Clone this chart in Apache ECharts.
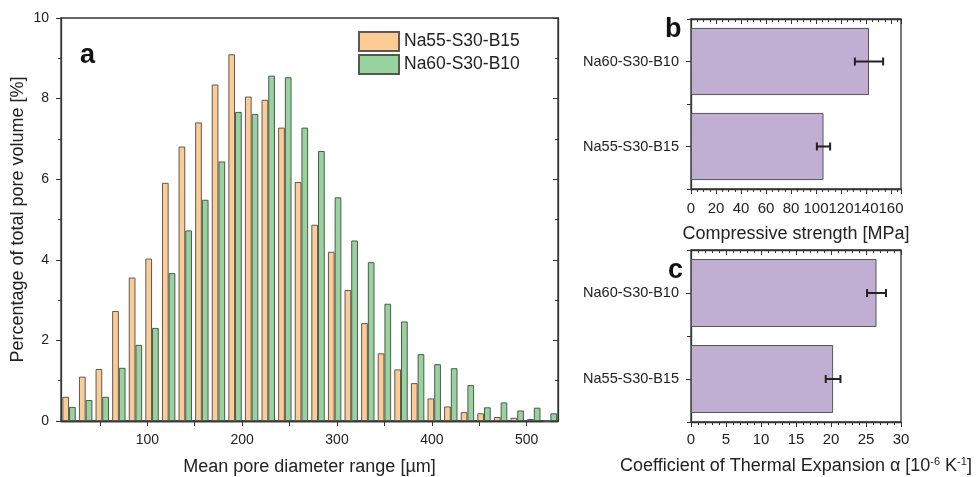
<!DOCTYPE html>
<html>
<head>
<meta charset="utf-8">
<script src="https://cdn.jsdelivr.net/npm/echarts@6/dist/echarts.min.js"></script>
<style>
    html, body { margin: 0; padding: 0; background: #fff; }
    #main { width: 976px; height: 477px; }
</style>
</head>
<body>
<div id="main"></div>
<script>
    // (a) pore size distribution, bin centres in µm and % of pore volume
    const binCenters = [17.5, 35, 52.5, 70, 87.5, 105, 122.5, 140, 157.5, 175,
        192.5, 210, 227.5, 245, 262.5, 280, 297.5, 315, 332.5, 350,
        367.5, 385, 402.5, 420, 437.5, 455, 472.5, 490, 507.5, 525];
    const na55 = [0.60, 1.10, 1.29, 2.73, 3.56, 4.03, 5.91, 6.81, 7.41, 8.35,
        9.10, 8.05, 7.97, 7.28, 5.93, 4.87, 4.20, 3.25, 2.43, 1.68,
        1.28, 0.94, 0.56, 0.36, 0.22, 0.19, 0.10, 0.08, 0.05, 0.00];
    const na60 = [0.35, 0.52, 0.60, 1.32, 1.89, 2.31, 3.67, 4.73, 5.49, 6.44,
        7.67, 7.62, 8.57, 8.53, 7.28, 6.70, 5.55, 4.48, 3.94, 2.91,
        2.47, 1.66, 1.41, 1.31, 0.89, 0.34, 0.46, 0.26, 0.33, 0.19];
    const xLabelTicks = [100, 200, 300, 400, 500];
    const xAllTicks = [50, 100, 150, 200, 250, 300, 350, 400, 450, 500];

    // (b) and (c)
    const samples = ['Na55-S30-B15', 'Na60-S30-B10'];
    const strength = [106, 142.4];
    const strengthErr = [5.3, 11.3];
    const cte = [20.3, 26.5];
    const cteErr = [1.05, 1.35];

    const FONT = 'Arial, "Liberation Sans", sans-serif';
    const INK = '#222';
    const LINE = {lineStyle: {color: '#333', width: 1.3}};

    const chart = echarts.init(document.getElementById('main'));

    function errorBar(params, api) {
        const v = api.value(0), c = api.value(1), e = api.value(2);
        const p1 = api.coord([v - e, c]);
        const p2 = api.coord([v + e, c]);
        const h = 4;
        const st = {stroke: '#222', lineWidth: 2};
        return {
            type: 'group',
            children: [
                {type: 'line', shape: {x1: p1[0], y1: p1[1], x2: p2[0], y2: p2[1]}, style: st},
                {type: 'line', shape: {x1: p1[0], y1: p1[1] - h, x2: p1[0], y2: p1[1] + h}, style: st},
                {type: 'line', shape: {x1: p2[0], y1: p2[1] - h, x2: p2[0], y2: p2[1] + h}, style: st}
            ]
        };
    }

    // frame round each plot; keep the grid where it is put
    const frame = {
        show: true, borderColor: '#333', borderWidth: 1.3, backgroundColor: 'transparent',
        containLabel: false, outerBoundsMode: 'none'
    };

    const option = {
        animation: false,
        textStyle: {fontFamily: FONT, color: INK},
        grid: [
            Object.assign({left: 61, top: 18, width: 497, height: 403}, frame),
            Object.assign({left: 691, top: 19, width: 210, height: 170}, frame),
            Object.assign({left: 691, top: 250, width: 210, height: 172}, frame)
        ],
        legend: {
            orient: 'vertical',
            left: 358,
            top: 31,
            itemWidth: 40,
            itemHeight: 19,
            itemGap: 2,
            padding: 0,
            icon: 'rect',
            data: ['Na55-S30-B15', 'Na60-S30-B10'],
            textStyle: {fontSize: 17.5, color: INK, fontFamily: FONT}
        },
        graphic: [
            {type: 'text', left: 80, top: 42, style: {text: 'a', font: 'bold 27px ' + FONT, fill: '#111'}},
            {type: 'text', left: 665, top: 16, style: {text: 'b', font: 'bold 27px ' + FONT, fill: '#111'}},
            {type: 'text', left: 668, top: 257, style: {text: 'c', font: 'bold 27px ' + FONT, fill: '#111'}}
        ],
        xAxis: [
            {
                gridIndex: 0, type: 'value', position: 'bottom', min: 9, max: 533,
                axisLine: Object.assign({show: true}, LINE),
                axisTick: {show: true, customValues: xAllTicks, length: 5, lineStyle: {color: '#333'}},
                axisLabel: {customValues: xLabelTicks, fontSize: 14, margin: 12, color: INK},
                splitLine: {show: false},
                name: 'Mean pore diameter range [µm]',
                nameLocation: 'middle', nameGap: 37, nameMoveOverlap: false,
                nameTextStyle: {fontSize: 18, color: INK}
            },
            {
                gridIndex: 0, type: 'value', position: 'top', min: 9, max: 533,
                axisLine: Object.assign({show: true}, LINE),
                axisTick: {show: true, inside: true, customValues: xAllTicks, length: 5, lineStyle: {color: '#333'}},
                axisLabel: {show: false},
                splitLine: {show: false}
            },
            {
                gridIndex: 1, type: 'value', position: 'bottom', min: 0, max: 168, interval: 20,
                axisLine: Object.assign({show: true}, LINE),
                axisTick: {show: true, length: 5, lineStyle: {color: '#333'}},
                minorTick: {show: true, splitNumber: 4, length: 3, lineStyle: {color: '#333'}},
                axisLabel: {fontSize: 15, margin: 12, color: INK, showMaxLabel: false},
                splitLine: {show: false},
                name: 'Compressive strength [MPa]',
                nameLocation: 'middle', nameGap: 36, nameMoveOverlap: false,
                nameTextStyle: {fontSize: 18, color: INK}
            },
            {
                gridIndex: 1, type: 'value', position: 'top', min: 0, max: 168, interval: 20,
                axisLine: Object.assign({show: true}, LINE),
                axisTick: {show: true, inside: true, length: 5, lineStyle: {color: '#333'}},
                minorTick: {show: true, splitNumber: 4, length: 3, lineStyle: {color: '#333'}},
                axisLabel: {show: false},
                splitLine: {show: false}
            },
            {
                gridIndex: 2, type: 'value', position: 'bottom', min: 0, max: 30, interval: 5,
                axisLine: Object.assign({show: true}, LINE),
                axisTick: {show: true, length: 5, lineStyle: {color: '#333'}},
                minorTick: {show: true, splitNumber: 5, length: 3, lineStyle: {color: '#333'}},
                axisLabel: {fontSize: 15, margin: 10, color: INK},
                splitLine: {show: false},
                name: 'Coefficient of Thermal Expansion α [10{sup|-6} K{sup|-1}]',
                nameLocation: 'middle', nameGap: 34, nameMoveOverlap: false,
                nameTextStyle: {
                    fontSize: 18, color: INK,
                    rich: {sup: {fontSize: 11, verticalAlign: 'top', color: INK, lineHeight: 20}}
                }
            },
            {
                gridIndex: 2, type: 'value', position: 'top', min: 0, max: 30, interval: 5,
                axisLine: Object.assign({show: true}, LINE),
                axisTick: {show: true, inside: true, length: 5, lineStyle: {color: '#333'}},
                minorTick: {show: true, splitNumber: 5, length: 3, lineStyle: {color: '#333'}},
                axisLabel: {show: false},
                splitLine: {show: false}
            }
        ],
        yAxis: [
            {
                gridIndex: 0, type: 'value', position: 'left', min: 0, max: 10, interval: 2,
                axisLine: Object.assign({show: true}, LINE),
                axisTick: {show: true, length: 5, lineStyle: {color: '#333'}},
                minorTick: {show: true, splitNumber: 2, length: 3, lineStyle: {color: '#333'}},
                axisLabel: {fontSize: 14, margin: 12, color: INK},
                splitLine: {show: false},
                name: 'Percentage of total pore volume [%]',
                nameLocation: 'middle', nameGap: 34, nameMoveOverlap: false,
                nameTextStyle: {fontSize: 18, color: INK}
            },
            {
                gridIndex: 0, type: 'value', position: 'right', min: 0, max: 10, interval: 2,
                axisLine: Object.assign({show: true}, LINE),
                axisTick: {show: true, inside: true, length: 5, lineStyle: {color: '#333'}},
                minorTick: {show: true, splitNumber: 2, length: 3, lineStyle: {color: '#333'}},
                axisLabel: {show: false},
                splitLine: {show: false}
            },
            {
                gridIndex: 1, type: 'category', position: 'left', data: samples,
                axisLine: Object.assign({show: true, onZero: false}, LINE),
                axisTick: {show: true, alignWithLabel: true, length: 5, lineStyle: {color: '#333'}},
                axisLabel: {fontSize: 14.5, margin: 12, color: INK}
            },
            {
                // band-boundary ticks, moved onto the zero line (left edge)
                gridIndex: 1, type: 'category', position: 'right', data: samples,
                axisLine: {show: false, onZero: true, onZeroAxisIndex: 2},
                axisTick: {show: true, inside: true, length: 4, lineStyle: {color: '#333'}},
                axisLabel: {show: false}
            },
            {
                gridIndex: 2, type: 'category', position: 'left', data: samples,
                axisLine: Object.assign({show: true, onZero: false}, LINE),
                axisTick: {show: true, alignWithLabel: true, length: 5, lineStyle: {color: '#333'}},
                axisLabel: {fontSize: 14.5, margin: 12, color: INK}
            },
            {
                gridIndex: 2, type: 'category', position: 'right', data: samples,
                axisLine: {show: false, onZero: true, onZeroAxisIndex: 4},
                axisTick: {show: true, inside: true, length: 4, lineStyle: {color: '#333'}},
                axisLabel: {show: false}
            }
        ],
        series: [
            {
                name: 'Na55-S30-B15', type: 'bar', xAxisIndex: 0, yAxisIndex: 0,
                barWidth: 6.7, barGap: '0%',
                itemStyle: {color: '#FDCB94', borderColor: '#5a5a5a', borderWidth: 1},
                data: binCenters.map((x, i) => [x, na55[i]])
            },
            {
                name: 'Na60-S30-B10', type: 'bar', xAxisIndex: 0, yAxisIndex: 0,
                barWidth: 6.7, barGap: '0%',
                itemStyle: {color: '#98D29F', borderColor: '#4f5a4f', borderWidth: 1},
                data: binCenters.map((x, i) => [x, na60[i]])
            },
            {
                name: 'strength', type: 'bar', xAxisIndex: 2, yAxisIndex: 2,
                barCategoryGap: '21%',
                itemStyle: {color: '#C1AFD3', borderColor: '#555', borderWidth: 1},
                data: strength
            },
            {
                name: 'strengthErr', type: 'custom', xAxisIndex: 2, yAxisIndex: 2,
                renderItem: errorBar, encode: {x: 0, y: 1}, z: 5,
                data: samples.map((s, i) => [strength[i], i, strengthErr[i]])
            },
            {
                name: 'cte', type: 'bar', xAxisIndex: 4, yAxisIndex: 4,
                barCategoryGap: '21%',
                itemStyle: {color: '#C1AFD3', borderColor: '#555', borderWidth: 1},
                data: cte
            },
            {
                name: 'cteErr', type: 'custom', xAxisIndex: 4, yAxisIndex: 4,
                renderItem: errorBar, encode: {x: 0, y: 1}, z: 5,
                data: samples.map((s, i) => [cte[i], i, cteErr[i]])
            }
        ]
    };

    chart.setOption(option);
</script>
</body>
</html>
